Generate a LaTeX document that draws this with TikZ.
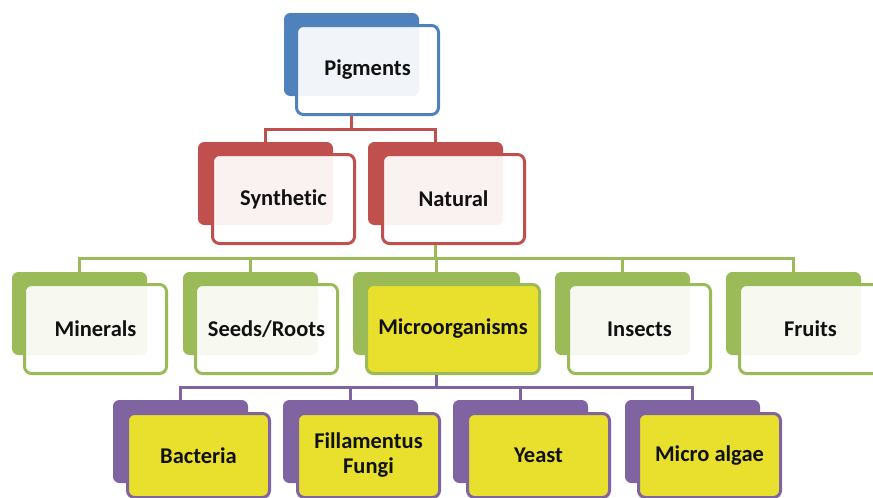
\documentclass[tikz,border=0pt]{standalone}
\usepackage{fontspec}
\setmainfont{Carlito}[Ligatures=NoCommon]
\definecolor{cblue}{HTML}{4F81BD}
\definecolor{cred}{HTML}{C0504D}
\definecolor{cgreen}{HTML}{9BBB59}
\definecolor{cpurple}{HTML}{8064A2}
\definecolor{cyellow}{HTML}{E8E02C}
\definecolor{ctext}{HTML}{111111}
\tikzset{
  backbox/.style={draw=#1, fill=#1, line width=1pt, rounded corners=6pt,
    anchor=north west, minimum width=134pt, minimum height=82pt, inner sep=0pt},
  frontbox/.style={draw=#1, fill=white, fill opacity=0.92, text opacity=1,
    line width=3pt, rounded corners=7pt, anchor=north west,
    minimum width=142pt, minimum height=89pt, inner sep=0pt, align=center,
    text=ctext, font=\bfseries\fontsize{22.5}{25}\selectfont},
  yellowbox/.style={frontbox=#1, fill=cyellow, fill opacity=1},
  conn/.style={draw=#1, line width=3pt},
}
\begin{document}
\begin{tikzpicture}[x=1pt,y=1pt]
\useasboundingbox (0,0) rectangle (873,-498);
\clip (0,0) rectangle (873,-498);
% level 0
\node[backbox=cblue] (pigB) at (284,-13) {};
\node[frontbox=cblue] (pig) at (295,-24) {Pigments};
% level 1
\node[backbox=cred] (synB) at (198,-142) {};
\node[frontbox=cred] (syn) at (211,-153) {Synthetic};
\node[backbox=cred] (natB) at (368,-142) {};
\node[frontbox=cred] (nat) at (381,-153) {Natural};
% level 2
\node[backbox=cgreen] (minB) at (12,-272) {};
\node[frontbox=cgreen] (min) at (23,-283) {Minerals};
\node[backbox=cgreen] (seeB) at (183,-272) {};
\node[frontbox=cgreen] (see) at (194,-283) {Seeds/Roots};
\node[backbox=cgreen, minimum width=166pt] (micB) at (353,-272) {};
\node[yellowbox=cgreen, minimum width=173pt] (mic) at (365,-283) {Microorganisms};
\node[backbox=cgreen] (insB) at (555,-272) {};
\node[frontbox=cgreen] (ins) at (567,-283) {Insects};
\node[backbox=cgreen] (fruB) at (726,-272) {};
\node[frontbox=cgreen] (fru) at (738,-283) {Fruits};
% level 3
\node[backbox=cpurple] (bacB) at (113,-400) {};
\node[yellowbox=cpurple, minimum height=84pt] (bac) at (126,-412) {Bacteria};
\node[backbox=cpurple] (filB) at (283,-400) {};
\node[yellowbox=cpurple, minimum height=84pt] (fil) at (296,-412) {Fillamentus\\Fungi};
\node[backbox=cpurple] (yeaB) at (453,-400) {};
\node[yellowbox=cpurple, minimum height=84pt] (yea) at (466,-412) {Yeast};
\node[backbox=cpurple] (algB) at (625,-400) {};
\node[yellowbox=cpurple, minimum height=84pt] (alg) at (637,-412) {Micro algae};
% connectors
\draw[conn=cred] (pig.south -| pigB.center) -- ++(0,-13) -| (synB.north);
\draw[conn=cred] (pig.south -| pigB.center) -- ++(0,-13) -| (natB.north);
\foreach \c in {minB,seeB,micB,insB,fruB}
  \draw[conn=cgreen] (nat.south -| natB.center) -- ++(0,-13) -| (\c.north);
\foreach \c in {bacB,filB,yeaB,algB}
  \draw[conn=cpurple] (mic.south -| micB.center) -- ++(0,-12) -| (\c.north);
\end{tikzpicture}
\end{document}
